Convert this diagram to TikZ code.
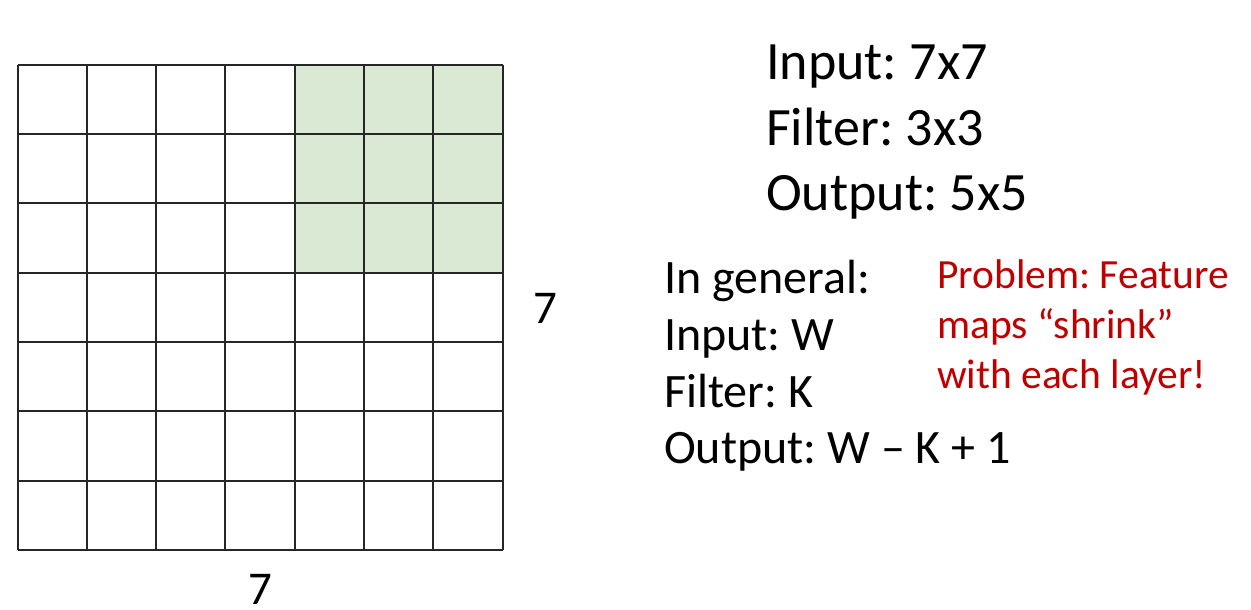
\documentclass[tikz,border=0pt]{standalone}
\usepackage{fontspec}
\setmainfont{Carlito}
\frenchspacing
\definecolor{gridline}{RGB}{38,38,38}
\definecolor{filtergreen}{RGB}{217,233,211}
\definecolor{probred}{RGB}{192,0,0}
\tikzset{
  big/.style={inner sep=0pt, anchor=base west, font=\fontsize{54}{65}\selectfont},
  mid/.style={inner sep=0pt, anchor=base west, font=\fontsize{48}{57}\selectfont},
  redtxt/.style={inner sep=0pt, anchor=base west, text=probred, font=\fontsize{41.5}{50}\selectfont},
  dimlabel/.style={inner sep=0pt, anchor=base, font=\fontsize{47}{57}\selectfont},
}
\begin{document}
\begin{tikzpicture}[x=1pt, y=-1pt]
\useasboundingbox (0,0) rectangle (1251,610);
\def\gx{17.5}\def\gy{64.7}\def\cs{69.3}
% green filter region
\fill[filtergreen] (\gx+4*\cs,\gy) rectangle (\gx+7*\cs,\gy+3*\cs);
% grid
\foreach \i in {0,...,7}{
  \draw[gridline, line width=2pt] (\gx+\i*\cs,\gy) -- (\gx+\i*\cs,\gy+7*\cs);
  \draw[gridline, line width=2pt] (\gx,\gy+\i*\cs) -- (\gx+7*\cs,\gy+\i*\cs);
}
\node[dimlabel] (w7) at (545,323) {7};
\node[dimlabel] (h7) at (260,604) {7};
% top spec
\node[big] (t1) at (766,80) {Input: 7x7};
\node[big] (t2) at (766,145) {Filter: 3x3};
\node[big] (t3) at (766,210) {Output: 5x5};
% general
\node[mid] (g1) at (664,293) {In general:};
\node[mid] (g2) at (664,350) {Input: W};
\node[mid] (g3) at (664,407) {Filter: K};
\node[mid] (g4) at (664,463) {Output: W – K + 1};
% problem
\node[redtxt] (p1) at (937,288) {Problem: Feature};
\node[redtxt] (p2) at (937,338) {maps “shrink”};
\node[redtxt] (p3) at (937,388) {with each layer!};
\end{tikzpicture}
\end{document}
